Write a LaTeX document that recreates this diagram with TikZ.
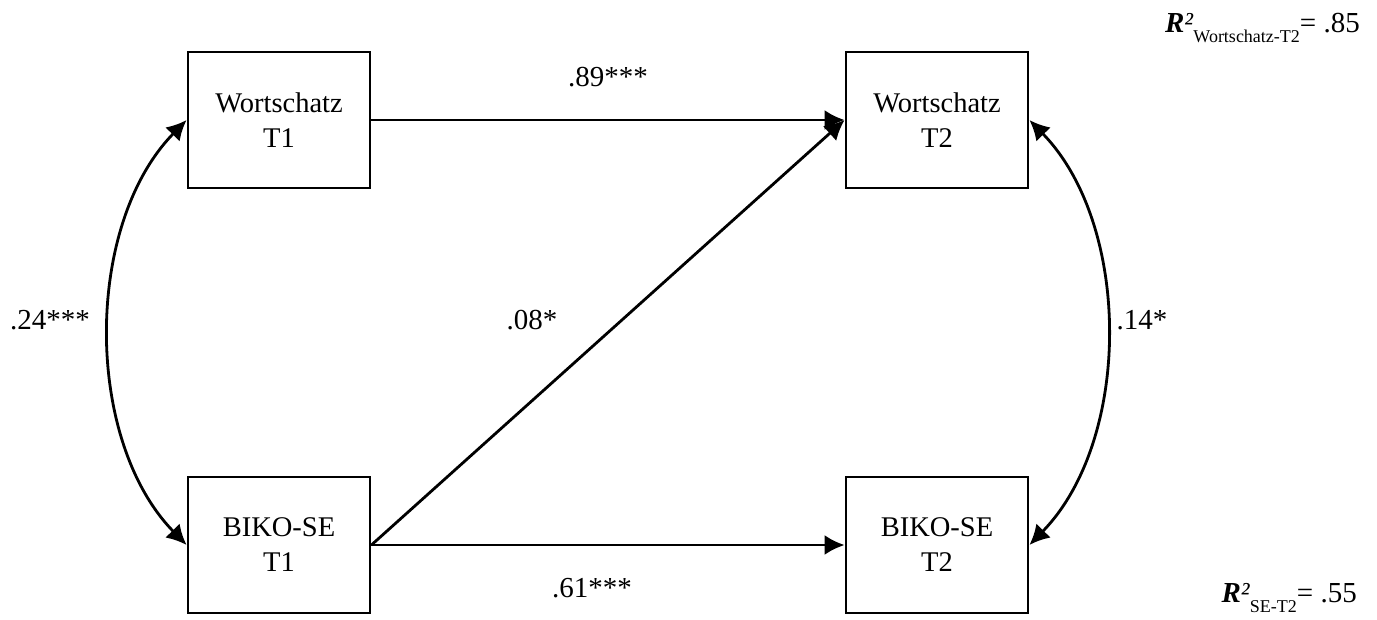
\documentclass[tikz,border=0pt]{standalone}
\usepackage{fontspec}
\setmainfont{Liberation Serif}
\usetikzlibrary{arrows.meta}
\begin{document}
\begin{tikzpicture}[x=1pt,y=-1pt,
  box/.style={draw,line width=2.8pt,minimum width=182pt,minimum height=136pt,align=center,font=\fontsize{28.5}{35}\selectfont,inner sep=0pt},
  path/.style={line width=2.8pt,-{Latex[length=20pt,width=20pt]}},
  dpath/.style={line width=2.8pt,{Latex[length=20pt,width=20pt]}-{Latex[length=20pt,width=20pt]}},
  lbl/.style={font=\fontsize{29}{32}\selectfont,inner sep=0pt},
  rlbl/.style={font=\fontsize{29}{32}\selectfont,inner sep=0pt,anchor=base east}]
\useasboundingbox (0,0) rectangle (1377,619);
\node[box] (wt1) at (279,120) {Wortschatz\\T1};
\node[box] (wt2) at (937,120) {Wortschatz\\T2};
\node[box] (bt1) at (279,545) {BIKO-SE\\T1};
\node[box] (bt2) at (937,545) {BIKO-SE\\T2};
\draw[path] (wt1.east) -- (wt2.west);
\draw[path] (bt1.east) -- (wt2.west);
\draw[path] (bt1.east) -- (bt2.west);
\draw[dpath] (wt1.west) .. controls (84,225) and (84,440) .. (bt1.west);
\draw[dpath] (wt2.east) .. controls (1132,225) and (1132,440) .. (bt2.east);
\node[lbl] (l89) at (608,77) {.89***};
\node[lbl] (l08) at (532,320) {.08*};
\node[lbl] (l61) at (592,588) {.61***};
\node[lbl] (l24) at (50,320) {.24***};
\node[lbl] (l14) at (1142,320) {.14*};
\node[rlbl] (r1) at (1360,32) {\textit{\textbf{R}²}\raisebox{-10pt}{\fontsize{18}{20}\selectfont Wortschatz-T2}= .85};
\node[rlbl] (r2) at (1357,602) {\textit{\textbf{R}²}\raisebox{-10pt}{\fontsize{18}{20}\selectfont SE-T2}= .55};
\end{tikzpicture}
\end{document}
